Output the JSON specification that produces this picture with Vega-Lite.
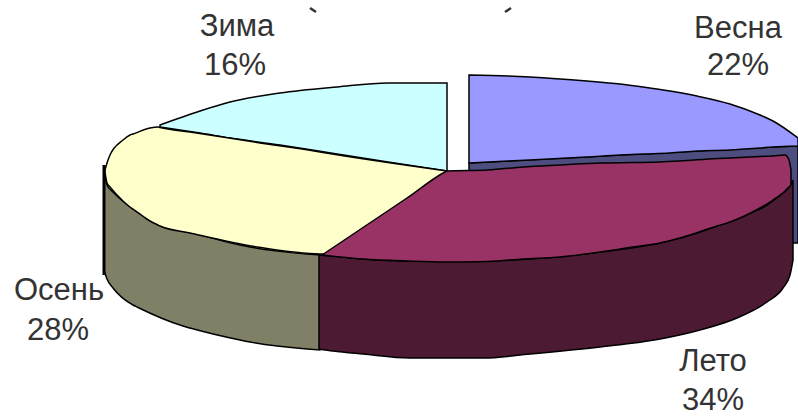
{"$schema":"https://vega.github.io/schema/vega-lite/v6.json","autosize":{"type":"fit","contains":"padding"},"width":798,"height":416,"padding":0,"background":"white","view":{"stroke":null},"datasets":{"pie":[
{"part":"Зима верх","x":160,"y":125,"y2":127},{"part":"Зима верх","x":200,"y":111,"y2":133},{"part":"Зима верх","x":230,"y":102,"y2":138},{"part":"Зима верх","x":280,"y":93,"y2":145},{"part":"Зима верх","x":337,"y":87,"y2":154},{"part":"Зима верх","x":388,"y":83,"y2":162},{"part":"Зима верх","x":447,"y":83,"y2":171},
{"part":"Весна бок","x":469,"y":163,"y2":243},{"part":"Весна бок","x":508,"y":161,"y2":243},{"part":"Весна бок","x":620,"y":155,"y2":243},{"part":"Весна бок","x":697,"y":151,"y2":243},{"part":"Весна бок","x":773,"y":147,"y2":243},{"part":"Весна бок","x":798,"y":146,"y2":243},
{"part":"Весна верх","x":469,"y":75,"y2":163},{"part":"Весна верх","x":508,"y":76,"y2":161},{"part":"Весна верх","x":530,"y":77,"y2":160},{"part":"Весна верх","x":587,"y":81,"y2":157},{"part":"Весна верх","x":620,"y":84,"y2":155},{"part":"Весна верх","x":643,"y":87,"y2":154},{"part":"Весна верх","x":670,"y":91,"y2":153},{"part":"Весна верх","x":697,"y":96,"y2":151},{"part":"Весна верх","x":730,"y":104,"y2":150},{"part":"Весна верх","x":760,"y":115,"y2":148},{"part":"Весна верх","x":773,"y":121,"y2":147},{"part":"Весна верх","x":798,"y":138,"y2":146},
{"part":"Осень бок","x":104,"y":172,"y2":270},{"part":"Осень бок","x":107,"y":185,"y2":279},{"part":"Осень бок","x":113,"y":192,"y2":288},{"part":"Осень бок","x":133,"y":209,"y2":305},{"part":"Осень бок","x":137,"y":212,"y2":307},{"part":"Осень бок","x":183,"y":230,"y2":326},{"part":"Осень бок","x":190,"y":232,"y2":328},{"part":"Осень бок","x":240,"y":245,"y2":340},{"part":"Осень бок","x":250,"y":247,"y2":342},{"part":"Осень бок","x":307,"y":254,"y2":349},{"part":"Осень бок","x":320,"y":255,"y2":350},
{"part":"Лето бок","x":319,"y":255,"y2":349},{"part":"Лето бок","x":333,"y":256,"y2":351},{"part":"Лето бок","x":363,"y":259,"y2":354},{"part":"Лето бок","x":410,"y":261,"y2":358},{"part":"Лето бок","x":483,"y":261,"y2":358},{"part":"Лето бок","x":530,"y":259,"y2":354},{"part":"Лето бок","x":600,"y":252,"y2":347},{"part":"Лето бок","x":660,"y":243,"y2":339},{"part":"Лето бок","x":700,"y":232,"y2":330},{"part":"Лето бок","x":737,"y":218,"y2":318},{"part":"Лето бок","x":767,"y":205,"y2":302},{"part":"Лето бок","x":783,"y":193,"y2":288},{"part":"Лето бок","x":790,"y":186,"y2":275},{"part":"Лето бок","x":793,"y":180,"y2":260},
{"part":"Осень верх","x":105,"y":170,"y2":172},{"part":"Осень верх","x":107,"y":163,"y2":183},{"part":"Осень верх","x":110,"y":155,"y2":187},{"part":"Осень верх","x":123,"y":140,"y2":201},{"part":"Осень верх","x":130,"y":135,"y2":207},{"part":"Осень верх","x":133,"y":134,"y2":209},{"part":"Осень верх","x":150,"y":128,"y2":221},{"part":"Осень верх","x":158,"y":127,"y2":225},{"part":"Осень верх","x":160,"y":127.5,"y2":226},{"part":"Осень верх","x":190,"y":132,"y2":233},{"part":"Осень верх","x":257,"y":142.5,"y2":247},{"part":"Осень верх","x":320,"y":152,"y2":254},{"part":"Осень верх","x":323,"y":152.5,"y2":254},{"part":"Осень верх","x":447,"y":171,"y2":171},
{"part":"Лето верх","x":322,"y":255,"y2":255},{"part":"Лето верх","x":363,"y":227.5,"y2":259},{"part":"Лето верх","x":407,"y":198,"y2":261},{"part":"Лето верх","x":445,"y":172,"y2":262},{"part":"Лето верх","x":447,"y":171,"y2":262},{"part":"Лето верх","x":488,"y":170,"y2":261.5},{"part":"Лето верх","x":523,"y":167,"y2":259},{"part":"Лето верх","x":560,"y":165,"y2":257},{"part":"Лето верх","x":600,"y":163,"y2":252},{"part":"Лето верх","x":633,"y":162.5,"y2":247},{"part":"Лето верх","x":660,"y":162,"y2":243},{"part":"Лето верх","x":680,"y":161,"y2":238},{"part":"Лето верх","x":717,"y":158.5,"y2":226},{"part":"Лето верх","x":730,"y":158,"y2":222},{"part":"Лето верх","x":760,"y":156.5,"y2":208},{"part":"Лето верх","x":773,"y":156,"y2":200},{"part":"Лето верх","x":785,"y":155,"y2":191},{"part":"Лето верх","x":789,"y":160,"y2":187},{"part":"Лето верх","x":791,"y":170,"y2":185}
],"labels":[{"t":"Весна","x":738,"y":29},{"t":"22%","x":738,"y":66},{"t":"Зима","x":237,"y":27},{"t":"16%","x":235,"y":66},{"t":"Осень","x":59,"y":291},{"t":"28%","x":58,"y":331},{"t":"Лето","x":713,"y":362},{"t":"34%","x":713,"y":401}],"edge":[{"x":104,"y":165,"y2":275}],"cut":[{"s":"l","x":310,"y":8},{"s":"l","x":316,"y":12},{"s":"r","x":505,"y":12},{"s":"r","x":511,"y":8}]},
"layer":[
{"data":{"name":"pie"},"mark":{"type":"area","stroke":"black","strokeWidth":1.5,"opacity":1,"clip":true,"interpolate":"monotone"},"encoding":{"x":{"field":"x","type":"quantitative","scale":{"domain":[0,798],"nice":false,"zero":false},"axis":null},"y":{"field":"y","type":"quantitative","scale":{"domain":[416,0],"nice":false,"zero":false},"axis":null},"y2":{"field":"y2"},"color":{"field":"part","type":"nominal","legend":null,"scale":{"domain":["Зима верх","Весна бок","Весна верх","Осень бок","Лето бок","Осень верх","Лето верх"],"range":["#CCFFFF","#4D4D80","#9999FF","#808066","#4D1A33","#FFFFCC","#993366"]}}}},
{"data":{"name":"edge"},"mark":{"type":"rule","color":"black","strokeWidth":3},"encoding":{"x":{"field":"x","type":"quantitative"},"y":{"field":"y","type":"quantitative"},"y2":{"field":"y2"}}},
{"data":{"name":"labels"},"mark":{"type":"text","font":"Liberation Sans","fontSize":31,"color":"#333333","align":"center","baseline":"middle"},"encoding":{"x":{"field":"x","type":"quantitative"},"y":{"field":"y","type":"quantitative"},"text":{"field":"t"}}},
{"data":{"name":"cut"},"mark":{"type":"line","color":"#333333","strokeWidth":2.5},"encoding":{"x":{"field":"x","type":"quantitative"},"y":{"field":"y","type":"quantitative"},"detail":{"field":"s"}}}
]}
